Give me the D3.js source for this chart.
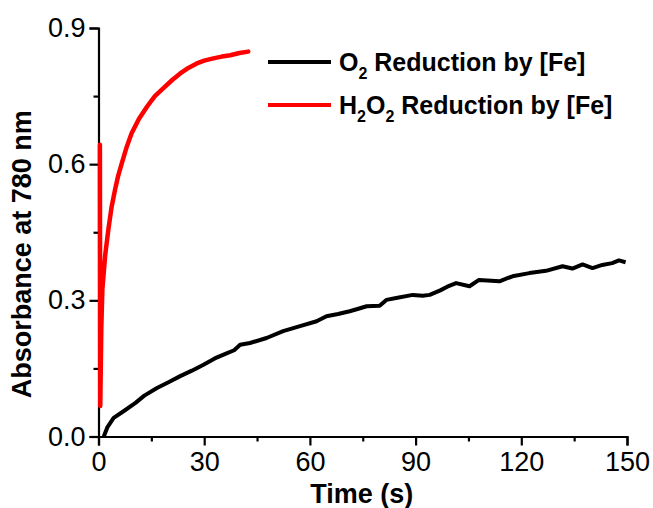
<!DOCTYPE html>
<html>
<head>
<meta charset="utf-8">
<script src="https://cdn.jsdelivr.net/npm/d3@7"></script>
<style>
  body { margin: 0; background: #fff; }
  text { font-family: "Liberation Sans", Arial, sans-serif; }
</style>
</head>
<body>
<div id="chart"></div>
<script>
// O2 reduction by [Fe] (black)
const o2Time = [1.5, 2.5, 4.3, 7, 10.5, 13, 16.6, 20, 23.2, 26.5, 29.8, 33, 36, 38.5, 40.2, 43, 47.7, 52.4, 57.2, 61.9, 64.7, 68, 71.3, 74, 76.1, 79.8, 81.7, 84.5, 89.2, 92, 94, 97, 99, 101.5, 105.3, 108, 113.8, 117.5, 122.3, 127, 131.7, 134.5, 137.4, 140.2, 143, 145.8, 147.7, 149.6];
const o2Abs = [0, 0.02, 0.041, 0.055, 0.074, 0.09, 0.107, 0.12, 0.133, 0.145, 0.158, 0.172, 0.182, 0.19, 0.202, 0.206, 0.217, 0.232, 0.243, 0.254, 0.265, 0.27, 0.276, 0.282, 0.287, 0.288, 0.301, 0.305, 0.312, 0.31, 0.312, 0.322, 0.33, 0.338, 0.331, 0.345, 0.342, 0.353, 0.36, 0.365, 0.375, 0.37, 0.379, 0.371, 0.378, 0.382, 0.388, 0.384];

// H2O2 reduction by [Fe] (red)
const h2o2Time = [0.4, 0.5, 0.8, 1.1, 1.9, 2.8, 3.7, 4.7, 5.6, 6.6, 8, 9.4, 11.5, 13.8, 16, 18.5, 21, 23.2, 25.5, 27.9, 30, 32.6, 35, 37.4, 40, 42.5];
const h2o2Abs = [0.643, 0.067, 0.24, 0.324, 0.4, 0.456, 0.505, 0.544, 0.575, 0.602, 0.638, 0.668, 0.7, 0.727, 0.75, 0.768, 0.786, 0.8, 0.812, 0.822, 0.828, 0.833, 0.837, 0.84, 0.845, 0.848];

const xTicks = [0, 30, 60, 90, 120, 150];
const xMinor = [15, 45, 75, 105, 135];
const yTicks = [0.0, 0.3, 0.6, 0.9];
const yMinor = [0.15, 0.45, 0.75];

const W = 653, H = 508;
const margin = { top: 28, right: 26, bottom: 71.5, left: 98.5 };
const width = W - margin.left - margin.right;
const height = H - margin.top - margin.bottom;

const svg = d3.select("#chart").append("svg")
  .attr("width", W)
  .attr("height", H);
const g = svg.append("g")
  .attr("transform", `translate(${margin.left},${margin.top})`);

const x = d3.scaleLinear().domain([0, 150]).range([0, width]);
const y = d3.scaleLinear().domain([0, 0.9]).range([height, 0]);

// Axes
const xAxis = g.append("g")
  .attr("transform", `translate(0,${height})`)
  .call(d3.axisBottom(x).tickValues(xTicks).tickSize(9).tickPadding(6).tickFormat(d3.format("d")));
xAxis.selectAll(".tick text").attr("font-size", 27).attr("fill", "#000");
g.append("g")
  .attr("transform", `translate(0,${height})`)
  .call(d3.axisBottom(x).tickValues(xMinor).tickSize(5).tickFormat(""))
  .select(".domain").remove();

const yAxis = g.append("g")
  .call(d3.axisLeft(y).tickValues(yTicks).tickSize(9).tickPadding(4).tickFormat(d3.format(".1f")));
yAxis.selectAll(".tick text").attr("font-size", 27).attr("fill", "#000");
g.append("g")
  .call(d3.axisLeft(y).tickValues(yMinor).tickSize(5).tickFormat(""))
  .select(".domain").remove();

g.selectAll(".domain").attr("stroke", "#000").attr("stroke-width", 2.2);
g.selectAll(".tick line").attr("stroke", "#000").attr("stroke-width", 2.2);

// Axis titles
svg.append("text")
  .attr("x", margin.left + x(75) - 1)
  .attr("y", 503)
  .attr("text-anchor", "middle")
  .attr("font-size", 27)
  .attr("font-weight", "bold")
  .text("Time (s)");

svg.append("text")
  .attr("transform", `translate(31,${margin.top + height / 2 + 22}) rotate(-90)`)
  .attr("text-anchor", "middle")
  .attr("font-size", 27)
  .attr("font-weight", "bold")
  .text("Absorbance at 780 nm");

// Lines
const line = d3.line().x(d => x(d[0])).y(d => y(d[1]));

g.append("path")
  .datum(d3.zip(h2o2Time, h2o2Abs))
  .attr("fill", "none")
  .attr("stroke", "#ff0000")
  .attr("stroke-width", 4.5)
  .attr("stroke-linejoin", "round")
  .attr("stroke-linecap", "round")
  .attr("d", line);

g.append("path")
  .datum(d3.zip(o2Time, o2Abs))
  .attr("fill", "none")
  .attr("stroke", "#000")
  .attr("stroke-width", 4)
  .attr("stroke-linejoin", "round")
  .attr("d", line);

// Legend
const legendItems = [
  { color: "#000", y: 62, parts: [["O", 0], ["2", 1], [" Reduction by [Fe]", 0]] },
  { color: "#ff0000", y: 105, parts: [["H", 0], ["2", 1], ["O", 0], ["2", 1], [" Reduction by [Fe]", 0]] }
];
const legend = svg.append("g");
legendItems.forEach(item => {
  legend.append("line")
    .attr("x1", 268).attr("x2", 331)
    .attr("y1", item.y).attr("y2", item.y)
    .attr("stroke", item.color)
    .attr("stroke-width", 4);
  const t = legend.append("text")
    .attr("x", 339)
    .attr("y", item.y + 9)
    .attr("font-size", 25)
    .attr("font-weight", "bold");
  item.parts.forEach((p, i) => {
    const prevSub = i > 0 && item.parts[i - 1][1];
    const ts = t.append("tspan").text(p[0]);
    if (p[1]) ts.attr("font-size", 16).attr("dy", 8);
    else if (prevSub) ts.attr("dy", -8);
  });
});
</script>
</body>
</html>
